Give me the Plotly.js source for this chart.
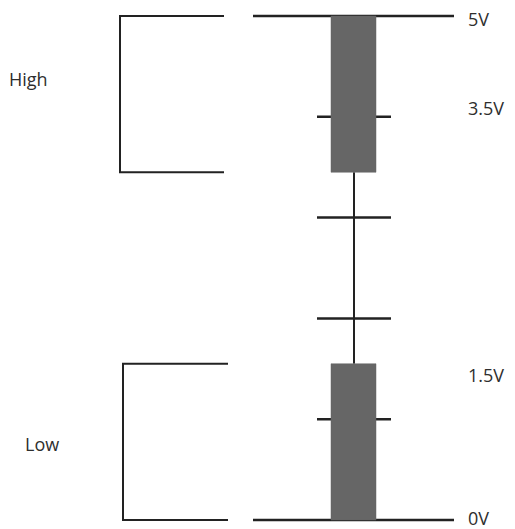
<!DOCTYPE html>
<html>
<head>
<meta charset="utf-8">
<script src="https://cdn.plot.ly/plotly-3.0.1.min.js"></script>
<style>html,body{margin:0;padding:0;background:#fff;}#chart{width:515px;height:529px;}</style>
</head>
<body>
<div id="chart"></div>
<script>
// Diagram levels (vertical diagram units, 0 = bottom rail, 5 = top rail)
const railLevels = [0, 5];
const highBand = [3.45, 5];
const lowBand = [0, 1.55];
const tickLevels = [4, 3, 2, 1];
const voltLabels = ['5V', '3.5V', '1.5V', '0V'];
const voltLabelLevels = [4.95, 4.06, 1.41, 0.0];
const stateLabels = ['High', 'Low'];
const stateLabelLevels = [4.35, 0.725];
// Horizontal positions (diagram units)
const railX = [253, 454];
const barX = [331, 376];
const stemX = 354;
const tickX = [317, 391];
const highBracketX = [120, 224];
const lowBracketX = [123, 228];
const voltLabelX = 468;
const stateLabelX = [9, 25];

const ink = '#222222';
const textFont = {family:'Open Sans, Noto Sans, sans-serif', size:18, color:'#2e2e2e'};
const traces = [];
// stem
traces.push({x:[stemX, stemX], y:[lowBand[1], highBand[0]], mode:'lines', line:{color:ink, width:2}});
// ticks
tickLevels.forEach(v => traces.push({x:tickX, y:[v, v], mode:'lines', line:{color:ink, width:2.5}}));
// rails
railLevels.forEach(v => traces.push({x:railX, y:[v, v], mode:'lines', line:{color:ink, width:2.5}}));
// brackets
function bracket(xs, band){
  return {x:[xs[1], xs[0], xs[0], xs[1]], y:[band[1], band[1], band[0], band[0]], mode:'lines', line:{color:ink, width:2}};
}
traces.push(bracket(highBracketX, highBand));
traces.push(bracket(lowBracketX, lowBand));
// bars (filled rectangles, drawn over ticks)
function bar(band){
  return {x:[barX[0], barX[1], barX[1], barX[0], barX[0]], y:[band[0], band[0], band[1], band[1], band[0]],
    mode:'lines', fill:'toself', fillcolor:'#666666', line:{color:'#666666', width:0.5}};
}
traces.push(bar(highBand));
traces.push(bar(lowBand));
// volt labels
traces.push({x:voltLabels.map(()=>voltLabelX), y:voltLabelLevels, mode:'text', text:voltLabels, textposition:'middle right', textfont:textFont});
// state labels
traces.push({x:stateLabelX, y:stateLabelLevels, mode:'text', text:stateLabels, textposition:'middle right', textfont:textFont});

const pxPerUnit = 100.8;
const layout = {
  width:515, height:529, margin:{l:0, r:0, t:0, b:0},
  paper_bgcolor:'#ffffff', plot_bgcolor:'#ffffff', showlegend:false,
  xaxis:{range:[0, 515], visible:false, fixedrange:true},
  yaxis:{range:[-9/pxPerUnit, 520/pxPerUnit], visible:false, fixedrange:true}
};
Plotly.newPlot('chart', traces, layout, {staticPlot:true, displayModeBar:false});
</script>
</body>
</html>
